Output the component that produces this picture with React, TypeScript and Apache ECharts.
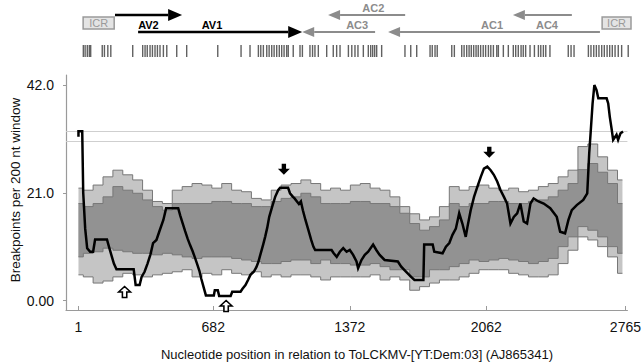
import React, { useEffect, useRef } from "react";
import * as echarts from "echarts";

// ---------- data ----------
const yTickValues = [0, 21, 42];
const yTickLabels = ["0.00", "21.0", "42.0"];
const xTickValues = [1, 682, 1372, 2062, 2765];

const bandPos = [1, 50, 100, 150, 200, 250, 300, 350, 400, 450, 500, 550, 600, 650, 700, 750, 800, 850, 900, 950,
  1000, 1050, 1100, 1150, 1200, 1250, 1300, 1350, 1400, 1450, 1500, 1550, 1600, 1650, 1700, 1750, 1800, 1850, 1900, 1950,
  2000, 2050, 2100, 2150, 2200, 2250, 2300, 2350, 2400, 2450, 2500, 2550, 2600, 2650, 2700, 2750];
const outerUpper = [21.9, 21.5, 22.5, 24.1, 25.4, 24.5, 23.5, 21.5, 19.3, 18.9, 21.5, 22.2, 22.8, 22.5, 21.9, 22.8, 21.5, 21.2, 19.9, 19.6,
  21.5, 22.5, 22.8, 23.5, 22.8, 21.5, 21.9, 21.5, 22.5, 22.8, 21.9, 21.5, 20.2, 18.3, 16.9, 15.7, 16.3, 18.3, 22.2, 21.5,
  22.2, 22.5, 21.9, 21.5, 21.9, 21.2, 21.5, 22.2, 22.8, 24.1, 25.4, 30.0, 30.5, 28.0, 25.4, 23.5];
const innerUpper = [18.9, 18.3, 18.9, 20.2, 22.2, 21.5, 20.9, 19.6, 18.3, 17.6, 18.9, 18.9, 18.9, 18.9, 19.3, 19.3, 18.9, 18.9, 18.3, 18.3,
  19.3, 19.9, 20.2, 20.9, 20.2, 18.9, 18.9, 18.9, 19.3, 19.3, 18.9, 18.9, 18.3, 17.0, 15.0, 13.7, 14.4, 15.7, 18.9, 18.3,
  18.9, 18.9, 19.3, 19.3, 18.9, 18.9, 19.3, 19.6, 20.2, 21.5, 22.8, 25.5, 26.7, 25.0, 22.8, 18.9];
const innerLower = [8.5, 9.2, 9.5, 10.2, 9.8, 9.5, 9.2, 9.2, 8.9, 9.2, 8.9, 8.5, 8.2, 8.5, 8.5, 8.5, 8.2, 7.9, 7.6, 7.2,
  7.2, 7.6, 7.9, 7.9, 7.2, 7.9, 7.2, 7.2, 6.9, 6.9, 7.2, 6.6, 6.0, 6.0, 4.6, 4.6, 6.0, 6.0, 6.6, 7.2,
  7.9, 7.6, 7.9, 8.2, 7.9, 7.6, 7.2, 7.6, 8.2, 10.5, 12.4, 14.4, 13.7, 12.4, 10.5, 9.2];
const outerLower = [5.0, 4.6, 3.4, 3.8, 4.6, 5.3, 5.0, 4.6, 5.0, 5.3, 5.6, 6.0, 4.6, 5.3, 5.0, 6.0, 5.3, 5.0, 5.6, 4.6,
  5.0, 4.6, 5.0, 5.0, 4.6, 4.0, 4.6, 4.6, 4.6, 4.6, 5.0, 4.0, 4.6, 4.0, 2.0, 2.7, 3.4, 4.0, 4.0, 4.6,
  5.3, 6.0, 6.0, 6.0, 5.3, 5.0, 4.6, 4.6, 5.0, 7.2, 9.8, 12.4, 11.8, 10.5, 8.5, 5.3];

const breakpoints: [number, number][] = [
  [1, 31.9], [1, 33.0], [20, 33.0], [25, 21.0], [35, 14.0], [45, 10.2], [60, 9.5], [75, 9.5], [85, 11.9], [145, 11.9],
  [155, 10.5], [170, 8.5], [180, 7.2], [193, 6.1], [280, 6.1], [290, 3.0], [310, 3.0], [320, 4.6], [335, 5.6], [350, 7.2],
  [365, 9.0], [378, 11.2], [395, 11.8], [410, 13.5], [430, 15.7], [444, 18.0], [505, 18.0], [515, 16.6], [528, 15.0], [540, 13.5],
  [553, 12.0], [565, 10.8], [578, 9.6], [590, 8.3], [600, 7.2], [612, 5.8], [622, 4.2], [634, 2.5], [645, 1.0], [685, 1.0],
  [690, 2.0], [705, 2.0], [712, 0.9], [770, 0.9], [778, 1.7], [820, 1.7], [830, 2.3], [845, 3.0], [858, 4.0], [870, 5.0],
  [887, 5.6], [900, 6.5], [910, 7.5], [922, 9.2], [935, 11.0], [945, 12.5], [955, 14.2], [965, 16.3], [980, 18.3], [995, 20.2],
  [1010, 21.5], [1020, 22.0], [1060, 22.0], [1070, 20.9], [1085, 20.2], [1093, 19.9], [1105, 19.3], [1115, 18.8], [1125, 19.3], [1135, 17.6],
  [1148, 15.7], [1163, 13.7], [1177, 11.8], [1188, 10.5], [1197, 9.85], [1280, 9.85], [1289, 9.3], [1306, 8.5], [1322, 9.5], [1339, 10.2],
  [1356, 9.5], [1372, 9.85], [1389, 8.9], [1406, 7.6], [1414, 6.3], [1431, 7.9], [1448, 8.9], [1465, 9.5], [1490, 10.9], [1506, 9.85],
  [1523, 8.9], [1548, 7.9], [1615, 7.6], [1632, 6.6], [1657, 5.6], [1682, 4.6], [1699, 4.0], [1744, 4.0], [1748, 10.9], [1791, 10.9],
  [1799, 9.5], [1841, 9.2], [1858, 10.5], [1875, 11.2], [1891, 12.8], [1908, 14.0], [1925, 17.0], [1941, 15.0], [1958, 12.4], [1967, 14.4],
  [1983, 17.6], [2000, 20.2], [2017, 22.2], [2034, 24.1], [2050, 25.7], [2067, 26.1], [2084, 25.4], [2100, 24.5], [2117, 23.2], [2134, 21.5],
  [2151, 20.2], [2167, 18.9], [2184, 15.0], [2201, 16.3], [2218, 17.0], [2234, 18.9], [2251, 15.4], [2268, 15.0], [2285, 18.9], [2301, 19.9],
  [2326, 19.3], [2352, 18.9], [2385, 18.0], [2418, 16.3], [2435, 13.4], [2460, 13.1], [2477, 15.7], [2494, 17.6], [2519, 18.6], [2552, 19.6],
  [2572, 20.9], [2582, 28.7], [2589, 32.6], [2599, 38.4], [2608, 42.0], [2619, 41.0], [2628, 39.4], [2670, 39.4], [2678, 38.4], [2686, 35.8],
  [2695, 33.5], [2703, 31.3], [2720, 32.3], [2728, 31.3], [2740, 32.6], [2753, 32.9],
];

const referenceLevels = [33.0, 31.1];

const downArrows: [number, number][] = [[1039, 25.6], [2077, 28.9], [2640, 44.6]];
const upArrows: [number, number][] = [[234, 1.65], [747, -1.07]];

const genes = [
  { name: "AV2", start: 184, end: 521, row: 0, labelAt: 352, labelSide: "below", sense: "virion" },
  { name: "AV1", start: 300, end: 1124, row: 1, labelAt: 671, labelSide: "above", sense: "virion" },
  { name: "AC3", start: 1490, end: 1124, row: 1, labelAt: 1400, labelSide: "above", sense: "complementary" },
  { name: "AC2", start: 1641, end: 1254, row: 0, labelAt: 1481, labelSide: "above", sense: "complementary" },
  { name: "AC1", start: 2619, end: 1555, row: 1, labelAt: 2077, labelSide: "above", sense: "complementary" },
  { name: "AC4", start: 2478, end: 2182, row: 0, labelAt: 2353, labelSide: "below", sense: "complementary" },
];
const icrRegions: [number, number][] = [[24, 180], [2630, 2775]];

const siteMarks = [25, 34, 45, 55, 62, 120, 131, 148, 163, 273, 323, 335, 346, 360, 372, 385, 397, 410, 427, 444,
  494, 544, 700, 817, 862, 904, 916, 929, 946, 958, 971, 983, 996, 1009, 1021, 1033, 1046, 1054, 1079, 1113, 1125,
  1163, 1176, 1188, 1205, 1247, 1280, 1297, 1314, 1356, 1373, 1389, 1404, 1431, 1456, 1468, 1478, 1488, 1498, 1523,
  1640, 1669, 1699, 1766, 1777, 1791, 1802, 1875, 1888, 1925, 1937, 1950, 1962, 1973, 1985, 1997, 2008, 2020, 2033,
  2045, 2059, 2071, 2084, 2101, 2109, 2134, 2159, 2184, 2196, 2209, 2223, 2234, 2246, 2268, 2290, 2310, 2322, 2335,
  2347, 2368, 2460, 2474, 2489, 2561, 2574, 2588, 2601, 2614, 2628, 2641, 2655, 2668, 2681, 2695, 2711, 2728, 2761];

// ---------- chart ----------
const FONT = "'Liberation Sans', Arial, sans-serif";
const X_MIN = -62;
const X_MAX = 2775;
const DOWN = "path://M3.5,0 L7.5,0 L7.5,5 L11,5 L5.5,11 L0,5 L3.5,5 Z";
const UP = "path://M5.5,0 L11,5.5 L7.5,5.5 L7.5,11 L3.5,11 L3.5,5.5 L0,5.5 Z";

function buildOption() {
  // step ("middle") outline of one band boundary, in pixels, via the axis scales
  const stepPixels = (api: any, arr: number[]) => {
    const out: number[][] = [];
    let prev: number[] | null = null;
    bandPos.forEach((x, i) => {
      const p = api.coord([x, arr[i]]);
      if (!prev) out.push(p);
      else {
        const mid = (prev[0] + p[0]) / 2;
        out.push([mid, prev[1]], [mid, p[1]]);
      }
      prev = p;
    });
    if (prev) out.push(prev);
    return out;
  };

  const bandSeries = {
    type: "custom",
    silent: true,
    z: 1,
    data: [[bandPos[0], outerLower[0]]],
    renderItem: (_params: any, api: any) => {
      const ou = stepPixels(api, outerUpper);
      const iu = stepPixels(api, innerUpper);
      const il = stepPixels(api, innerLower);
      const ol = stepPixels(api, outerLower);
      const edge = { stroke: "#777", lineWidth: 1, fill: null };
      return {
        type: "group",
        children: [
          { type: "polygon", shape: { points: [...ou, ...ol.slice().reverse()] }, style: { fill: "#c5c5c5" } },
          { type: "polygon", shape: { points: [...iu, ...il.slice().reverse()] }, style: { fill: "#929292" } },
          { type: "polyline", shape: { points: ou }, style: edge },
          { type: "polyline", shape: { points: iu }, style: edge },
          { type: "polyline", shape: { points: il }, style: edge },
          { type: "polyline", shape: { points: ol }, style: edge },
        ],
      };
    },
  };

  const geneSeries = {
    type: "custom",
    xAxisIndex: 1,
    yAxisIndex: 1,
    silent: true,
    data: genes.map((g) => [g.start, g.end]),
    renderItem: (params: any, api: any) => {
      const g = genes[params.dataIndex];
      const rowY = g.row === 0 ? 15 : 32;
      const p1 = api.coord([g.start, rowY]);
      const p2 = api.coord([g.end, rowY]);
      const dir = p2[0] > p1[0] ? 1 : -1;
      const color = g.sense === "virion" ? "#000" : "#8c8c8c";
      const headLen = g.sense === "virion" ? 14 : 12;
      const headHalf = g.sense === "virion" ? 6 : 5;
      const baseX = p2[0] - dir * headLen;
      const labelY = rowY + (g.labelSide === "above" ? -7 : 10);
      const lp = api.coord([g.labelAt, labelY]);
      return {
        type: "group",
        children: [
          { type: "line", shape: { x1: p1[0], y1: p1[1], x2: baseX, y2: p1[1] }, style: { stroke: color, lineWidth: g.sense === "virion" ? 2.5 : 2 } },
          { type: "polygon", shape: { points: [[p2[0], p2[1]], [baseX, p2[1] - headHalf], [baseX, p2[1] + headHalf]] }, style: { fill: color } },
          { type: "text", x: lp[0], y: lp[1], style: { text: g.name, fill: color, font: `bold 11px ${FONT}`, align: "center", verticalAlign: "middle" } },
        ],
      };
    },
  };

  const icrSeries = {
    type: "custom",
    xAxisIndex: 1,
    yAxisIndex: 1,
    silent: true,
    data: icrRegions,
    renderItem: (params: any, api: any) => {
      const r = icrRegions[params.dataIndex];
      const a = api.coord([r[0], 17]);
      const b = api.coord([r[1], 29]);
      return {
        type: "group",
        children: [
          { type: "rect", shape: { x: a[0], y: a[1], width: b[0] - a[0], height: b[1] - a[1] }, style: { fill: "#e4e4e4", stroke: "#9a9a9a", lineWidth: 1.5 } },
          { type: "text", x: (a[0] + b[0]) / 2, y: (a[1] + b[1]) / 2, style: { text: "ICR", fill: "#9a9a9a", font: `11px ${FONT}`, align: "center", verticalAlign: "middle" } },
        ],
      };
    },
  };

  return {
    animation: false,
    backgroundColor: "#fff",
    textStyle: { fontFamily: FONT },
    grid: [
      { left: 66, width: 565, top: 75, height: 235 },
      { left: 66, width: 565, top: 0, height: 60 },
    ],
    xAxis: [
      {
        type: "value",
        gridIndex: 0,
        min: X_MIN,
        max: X_MAX,
        splitLine: { show: false },
        axisLine: { onZero: false, lineStyle: { color: "#9a9a9a", width: 1.2 } },
        axisTick: { inside: true, length: 4, customValues: xTickValues, lineStyle: { color: "#9a9a9a" } },
        axisLabel: { customValues: xTickValues, color: "#111", fontSize: 14, fontFamily: FONT, margin: 10, formatter: (v: number) => String(v) },
      },
      { type: "value", gridIndex: 1, min: X_MIN, max: X_MAX, show: false },
    ],
    yAxis: [
      {
        type: "value",
        gridIndex: 0,
        min: -1.85,
        max: 43.95,
        splitLine: { show: false },
        axisLine: { show: true, onZero: false, lineStyle: { color: "#9a9a9a", width: 1.2 } },
        axisTick: { show: true, length: 3, customValues: yTickValues, lineStyle: { color: "#9a9a9a" } },
        axisLabel: {
          customValues: yTickValues,
          color: "#111",
          fontSize: 14,
          fontFamily: FONT,
          margin: 12,
          formatter: (v: number) => yTickLabels[yTickValues.indexOf(Math.round(v))] ?? "",
        },
      },
      { type: "value", gridIndex: 1, min: 0, max: 60, inverse: true, show: false },
    ],
    graphic: [
      { type: "text", x: 15, y: 190, rotation: Math.PI / 2, style: { text: "Breakpoints per 200 nt window", font: `13.5px ${FONT}`, fill: "#111", align: "center", verticalAlign: "middle" } },
      { type: "text", x: 357, y: 354, style: { text: "Nucleotide position in relation to ToLCKMV-[YT:Dem:03] (AJ865341)", font: `13px ${FONT}`, fill: "#111", align: "center", verticalAlign: "middle" } },
    ],
    series: [
      bandSeries,
      {
        type: "line",
        symbol: "none",
        silent: true,
        z: 5,
        lineStyle: { color: "#000", width: 2.5, join: "miter" },
        data: breakpoints,
        markLine: {
          silent: true,
          symbol: "none",
          label: { show: false },
          lineStyle: { color: "#cfcfcf", width: 1.2, type: "solid" },
          data: referenceLevels.map((v) => ({ yAxis: v })),
        },
        markPoint: {
          silent: true,
          label: { show: false },
          data: [
            ...downArrows.map((c) => ({ coord: c, symbol: DOWN, symbolSize: [12, 11], itemStyle: { color: "#000" } })),
            ...upArrows.map((c) => ({ coord: c, symbol: UP, symbolSize: [12, 11], itemStyle: { color: "#fff", borderColor: "#000", borderWidth: 1.5 } })),
          ],
        },
      },
      {
        type: "scatter",
        xAxisIndex: 1,
        yAxisIndex: 1,
        silent: true,
        symbol: "rect",
        symbolSize: [1.4, 12],
        itemStyle: { color: "#3a3a3a", opacity: 0.8 },
        data: siteMarks.map((x) => [x, 51]),
      },
      geneSeries,
      icrSeries,
    ],
  };
}

export default function App() {
  const ref = useRef<HTMLDivElement>(null);
  useEffect(() => {
    if (!ref.current) return;
    const chart = echarts.init(ref.current, undefined, { renderer: "svg" });
    chart.setOption(buildOption() as any);
    return () => chart.dispose();
  }, []);
  return <div ref={ref} style={{ width: 644, height: 362, position: "absolute", left: 0, top: 0 }} />;
}
